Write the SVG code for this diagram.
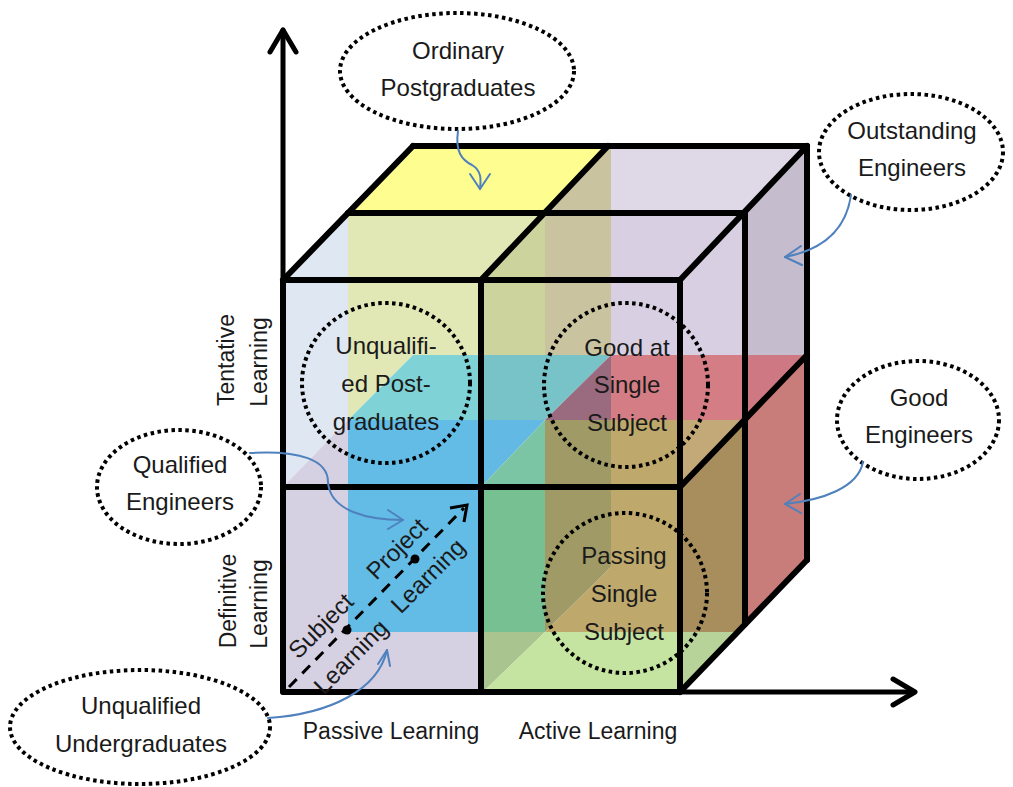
<svg xmlns="http://www.w3.org/2000/svg" width="1013" height="787" viewBox="0 0 1013 787">
<defs>
<style>
.t{font-family:"Liberation Sans",Arial,sans-serif;font-size:24px;fill:#1a1a1a;text-anchor:middle}
.ax{font-size:23px}
.dot{fill:none;stroke:#000;stroke-width:4;stroke-dasharray:3.5 3.5}
.edge{fill:none;stroke:#000;stroke-width:6;stroke-linecap:round;stroke-linejoin:round}
.axis{fill:none;stroke:#000;stroke-width:5;stroke-linecap:round;stroke-linejoin:round}
.con{fill:none;stroke:#4f81bd;stroke-width:2;stroke-linecap:round;stroke-linejoin:round}
</style>
</defs>
<rect width="1013" height="787" fill="#fff"/>
<g id="fills">
<polygon points="283,280 348,213 348,420 283,487" fill="#dfe7f3"/>
<polygon points="283,487 348,420 348,632 481,632 481,692 283,692" fill="#d6d0e3"/>
<polygon points="348,213 545,213 481,280 481,355 413,355 348,420" fill="#e2e8b5"/>
<polygon points="348,213 413,146 608,146 545,213" fill="#fdfd90"/>
<polygon points="481,280 545,213 545,355 481,355" fill="#cdd39c"/>
<polygon points="545,213 608,146 611,146 611,355 545,355" fill="#cac3a0"/>
<polygon points="611,146 807,146 745,213 611,213" fill="#dfd8e6"/>
<rect x="611" y="213" width="134" height="142" fill="#d8cfe3"/>
<polygon points="745,213 807,146 807,355 745,355" fill="#c5bccd"/>
<polygon points="413,355 481,355 481,420 348,420" fill="#7fd3d6"/>
<polygon points="481,355 611,355 545,420 481,420" fill="#77c3c8"/>
<polygon points="611,355 611,420 545,420" fill="#9a6a7e"/>
<rect x="611" y="355" width="134" height="65" fill="#d57d85"/>
<polygon points="745,355 807,355 745,420" fill="#cd7882"/>
<polygon points="807,355 807,560 745,624 745,420" fill="#c97d7a"/>
<rect x="348" y="420" width="133" height="212" fill="#62bce6"/>
<polygon points="481,420 545,420 481,487" fill="#62b9e4"/>
<polygon points="545,420 545,487 481,487" fill="#7cc5a4"/>
<rect x="481" y="487" width="64" height="145" fill="#76c092"/>
<polygon points="545,420 611,420 611,567 545,632" fill="#9f9a66"/>
<polygon points="611,420 680,420 680,632 545,632 611,567" fill="#bea86c"/>
<polygon points="680,420 745,420 680,487" fill="#c3a977"/>
<polygon points="680,487 745,420 745,624 737,632 680,632" fill="#a88e5c"/>
<polygon points="680,632 737,632 680,692" fill="#b8d39a"/>
<polygon points="481,632 545,632 483,692 481,692" fill="#a9c48e"/>
<polygon points="545,632 680,632 680,692 483,692" fill="#c5e3a1"/>
</g>
<g id="axes">
<line class="axis" x1="283" y1="692" x2="283" y2="30"/>
<polyline class="axis" points="270,52 283,30 296,52"/>
<line class="axis" x1="283" y1="692" x2="913" y2="692"/>
<polyline class="axis" points="893,679 915,692 893,705"/>
</g>
<g id="cube">
<rect class="edge" x="283" y="280" width="397" height="412"/>
<line class="edge" x1="481" y1="280" x2="481" y2="692"/>
<line class="edge" x1="283" y1="487" x2="680" y2="487"/>
<line class="edge" x1="348" y1="213" x2="745" y2="213"/>
<line class="edge" x1="745" y1="213" x2="745" y2="624"/>
<line class="edge" x1="413" y1="146" x2="807" y2="146"/>
<line class="edge" x1="807" y1="146" x2="807" y2="560"/>
<line class="edge" x1="283" y1="280" x2="413" y2="146"/>
<line class="edge" x1="481" y1="280" x2="608" y2="146"/>
<line class="edge" x1="680" y1="280" x2="807" y2="146"/>
<line class="edge" x1="680" y1="487" x2="807" y2="355"/>
<line class="edge" x1="680" y1="692" x2="807" y2="560"/>
</g>
<g id="path-arrow">
<line x1="289" y1="687" x2="464" y2="508" stroke="#000" stroke-width="3" stroke-dasharray="11 8"/>
<polyline points="450,508 467,505 464,522" fill="none" stroke="#000" stroke-width="3" stroke-linejoin="miter"/>
<circle cx="347" cy="630" r="4.5" fill="#000"/>
<circle cx="415" cy="559" r="4.5" fill="#000"/>
<text class="t" transform="translate(321,626) rotate(-45)" dy="8">Subject</text>
<text class="t" transform="translate(351,657) rotate(-45)" dy="8">Learning</text>
<text class="t" transform="translate(397,549) rotate(-45)" dy="8">Project</text>
<text class="t" transform="translate(428,576) rotate(-45)" dy="8">Learning</text>
</g>
<g id="unqualified-postgraduates">
<ellipse class="dot" cx="386" cy="383" rx="84" ry="80"/>
<text class="t" x="386" y="354">Unqualifi-</text>
<text class="t" x="386" y="392">ed Post-</text>
<text class="t" x="386" y="430">graduates</text>
</g>
<g id="good-at-single-subject">
<ellipse class="dot" cx="626" cy="385" rx="82" ry="82"/>
<text class="t" x="627" y="356">Good at</text>
<text class="t" x="627" y="393">Single</text>
<text class="t" x="627" y="431">Subject</text>
</g>
<g id="passing-single-subject">
<ellipse class="dot" cx="625" cy="593" rx="82" ry="80"/>
<text class="t" x="624" y="564">Passing</text>
<text class="t" x="624" y="602">Single</text>
<text class="t" x="624" y="640">Subject</text>
</g>
<g id="ordinary-postgraduates">
<ellipse class="dot" cx="457" cy="71" rx="117" ry="58"/>
<text class="t" x="458" y="59">Ordinary</text>
<text class="t" x="458" y="96">Postgraduates</text>
</g>
<g id="outstanding-engineers">
<ellipse class="dot" cx="911" cy="152" rx="92" ry="58"/>
<text class="t" x="912" y="139">Outstanding</text>
<text class="t" x="912" y="176">Engineers</text>
</g>
<g id="good-engineers">
<ellipse class="dot" cx="918" cy="420" rx="81" ry="59"/>
<text class="t" x="919" y="406">Good</text>
<text class="t" x="919" y="443">Engineers</text>
</g>
<g id="qualified-engineers">
<ellipse class="dot" cx="179" cy="487" rx="82" ry="57"/>
<text class="t" x="180" y="473">Qualified</text>
<text class="t" x="180" y="510">Engineers</text>
</g>
<g id="unqualified-undergraduates">
<ellipse class="dot" cx="140" cy="727" rx="130" ry="57"/>
<text class="t" x="141" y="714">Unqualified</text>
<text class="t" x="141" y="752">Undergraduates</text>
</g>
<g id="axis-labels">
<text class="t ax" x="391" y="739">Passive Learning</text>
<text class="t ax" x="598" y="739">Active Learning</text>
<text class="t ax" transform="translate(234,360) rotate(-90)">Tentative</text>
<text class="t ax" transform="translate(267,362) rotate(-90)">Learning</text>
<text class="t ax" transform="translate(236,601) rotate(-90)">Definitive</text>
<text class="t ax" transform="translate(267,604) rotate(-90)">Learning</text>
</g>
<g id="connectors">
<path class="con" d="M458,131 C455,152 462,160 472,165 C482,171 481,180 480,189"/>
<polyline class="con" points="470,174 480,189 490,174"/>
<path class="con" d="M851,195 C846,230 822,250 785,257"/>
<polyline class="con" points="801,246 785,257 802,265"/>
<path class="con" d="M863,462 C858,488 822,500 785,504"/>
<polyline class="con" points="800,494 785,504 801,513"/>
<path class="con" d="M250,453 C300,450 328,460 328,482 C330,512 370,520 403,520"/>
<polyline class="con" points="388,510 403,520 388,529"/>
<path class="con" d="M268,718 C330,714 378,690 387,650"/>
<polyline class="con" points="378,664 387,650 390,666"/>
</g>
</svg>
